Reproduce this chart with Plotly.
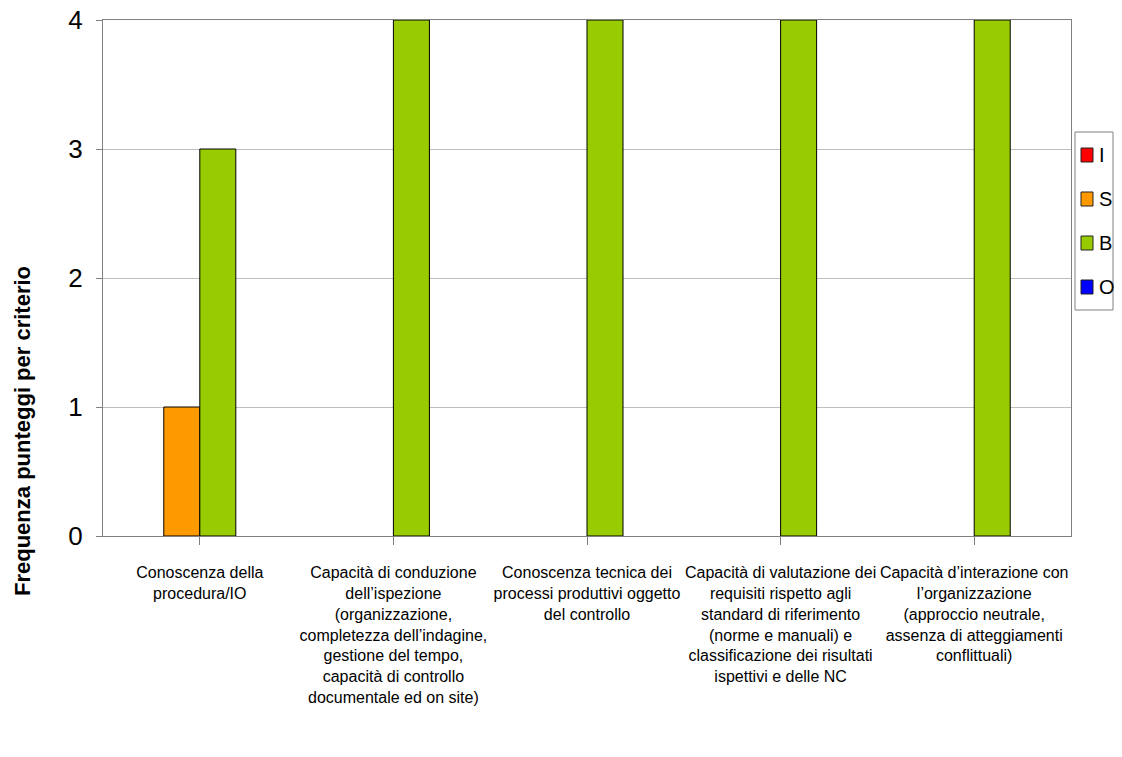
import plotly.graph_objects as go

categories = [
    "Conoscenza della<br>procedura/IO",
    "Capacità di conduzione<br>dell’ispezione<br>(organizzazione,<br>completezza dell’indagine,<br>gestione del tempo,<br>capacità di controllo<br>documentale ed on site)",
    "Conoscenza tecnica dei<br>processi produttivi oggetto<br>del controllo",
    "Capacità di valutazione dei<br>requisiti rispetto agli<br>standard di riferimento<br>(norme e manuali) e<br>classificazione dei risultati<br>ispettivi e delle NC",
    "Capacità d’interazione con<br>l’organizzazione<br>(approccio neutrale,<br>assenza di atteggiamenti<br>conflittuali)",
]
series_names = ["I", "S", "B", "O"]
values_I = [0, 0, 0, 0, 0]
values_S = [1, 0, 0, 0, 0]
values_B = [3, 4, 4, 4, 4]
values_O = [0, 0, 0, 0, 0]
colors = ["#FF0000", "#FF9900", "#99CC00", "#0000FF"]
y_title = "Frequenza punteggi per criterio"

FONT = "Liberation Sans, Arial, sans-serif"

# the page body adds an 8px margin; size the figure so the page does not scroll
OFF = 8
W, H = 1122 - OFF, 740
L, R, T = 103 - OFF, 1122 - 1071, 20 - OFF
B = OFF + H - 536
pw, ph = W - L - R, H - T - B


def px(sx):
    return (sx - OFF - L) / pw


def py(sy):
    return (H - B - (sy - OFF)) / ph


fig = go.Figure()
for name, vals, col in zip(series_names, [values_I, values_S, values_B, values_O], colors):
    fig.add_trace(go.Bar(
        x=list(range(len(categories))), y=vals, name=name,
        marker=dict(color=col,
                    line=dict(color="#000000", width=[1 if v else 0 for v in vals])),
        showlegend=False,
    ))

# legend box drawn as shapes + annotations (Excel-like compact legend)
shapes = [dict(type="rect", xref="paper", yref="paper",
               x0=px(1075), x1=px(1113), y0=py(310), y1=py(132),
               line=dict(color="#808080", width=1), fillcolor="white", layer="above")]
annotations = []
leg_y = [155, 199, 243, 287]
for name, col, sy in zip(series_names, colors, leg_y):
    shapes.append(dict(type="rect", xref="paper", yref="paper",
                       x0=px(1081), x1=px(1093), y0=py(sy + 7), y1=py(sy - 7),
                       line=dict(color="#222222", width=1), fillcolor=col, layer="above"))
    annotations.append(dict(text=name, xref="paper", yref="paper",
                            x=px(1097), y=py(sy), xanchor="left", yanchor="middle",
                            showarrow=False, font=dict(size=20, family=FONT, color="#000000")))

annotations.append(dict(
    text="<b>" + y_title + "</b>", textangle=-90,
    xref="paper", yref="paper",
    x=px(22), y=py(431),
    xanchor="center", yanchor="middle", showarrow=False,
    font=dict(size=22, family=FONT, color="#000000"),
))

fig.update_layout(
    width=W, height=H,
    margin=dict(l=L, r=R, t=T, b=B, pad=0, autoexpand=False),
    paper_bgcolor="white", plot_bgcolor="white",
    barmode="group", bargap=0.256, bargroupgap=0,
    font=dict(family=FONT, color="#000000"),
    showlegend=False,
    xaxis=dict(
        tickmode="array", tickvals=list(range(len(categories))), ticktext=categories,
        range=[-0.5, len(categories) - 0.5],
        tickangle=0,
        ticks="outside", ticklen=8, tickcolor="#808080", tickson="boundaries",
        ticklabelstandoff=14,
        showline=True, linecolor="#808080", linewidth=1, mirror=True,
        showgrid=False, zeroline=False,
        tickfont=dict(size=16, family=FONT),
    ),
    yaxis=dict(
        range=[0, 4], dtick=1, tick0=0,
        ticks="outside", ticklen=6, tickcolor="#808080",
        ticklabelstandoff=8, ticklabeloverflow="allow",
        showline=True, linecolor="#808080", linewidth=1, mirror=True,
        showgrid=True, gridcolor="#BEBEBE", gridwidth=1,
        zeroline=False,
        tickfont=dict(size=26, family=FONT),
    ),
    shapes=shapes,
    annotations=annotations,
)

fig.write_html("out.html")
